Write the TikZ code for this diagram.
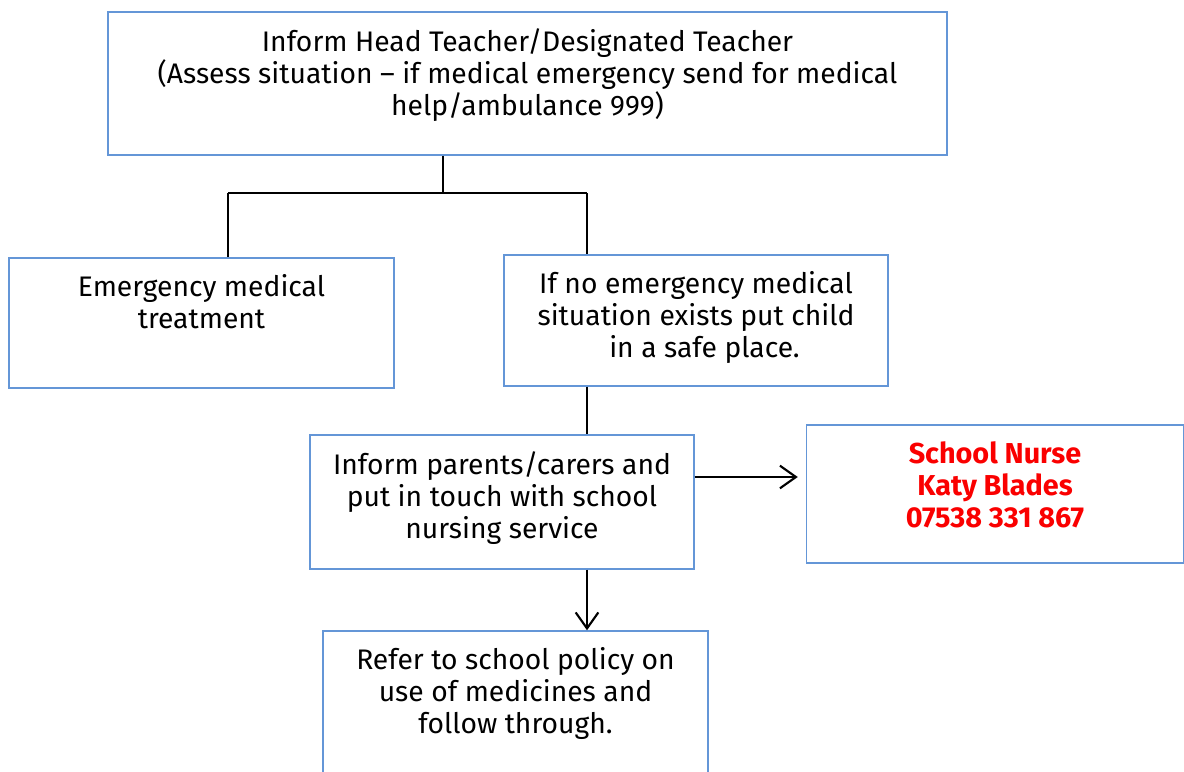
\documentclass[tikz,border=0pt]{standalone}
\usepackage{fontspec}
\setmainfont{Fira Sans}
\usetikzlibrary{positioning,arrows.meta}
\definecolor{boxblue}{RGB}{100,150,215}
\definecolor{nursered}{RGB}{250,0,0}
\tikzset{box/.style={draw=boxblue, line width=1.1pt, rectangle, inner sep=0pt},
%text sits near the top of each box
boxtext/.style={align=center, inner sep=0pt, font=\fontsize{21.2}{24}\selectfont},
link/.style={draw=black, line width=1.6pt},
flow/.style={link, -{Straight Barb[length=12pt,width=17pt,line width=1.6pt]}}}

\begin{document}
\begin{tikzpicture}[x=0.75pt,y=-0.75pt]

\useasboundingbox (0,0) rectangle (1184,771);

\node[box, minimum width=839*0.75pt, minimum height=143*0.75pt] (top) at (527.5,83.5) {};
\node[box, minimum width=385*0.75pt, minimum height=130*0.75pt] (left) at (201.5,323) {};
\node[box, minimum width=384*0.75pt, minimum height=131*0.75pt] (right) at (696,320.5) {};
\node[box, minimum width=384*0.75pt, minimum height=134*0.75pt] (mid) at (502,502) {};
\node[box, minimum width=377*0.75pt, minimum height=138*0.75pt] (nurse) at (995,494) {};
\node[box, minimum width=385*0.75pt, minimum height=160*0.75pt] (bottom) at (515.5,711) {};

\node[boxtext, below=12.5pt of top.north] (toptext) {Inform Head Teacher/Designated Teacher\\(Assess situation -- if medical emergency send for medical\\help/ambulance 999)};
\node[boxtext, below=12.5pt of left.north] (lefttext) {Emergency medical\\treatment};
\node[boxtext, below=12.5pt of right.north] (righttext) {If no emergency medical\\situation exists put child\\\hspace{0.6em}in a safe place.};
\node[boxtext, below=12.5pt of mid.north] (midtext) {Inform parents/carers and\\put in touch with school\\nursing service};
\node[boxtext, below=12.5pt of nurse.north, text=nursered, font=\fontsize{21.6}{24}\selectfont\bfseries] (nursetext) {School Nurse\\Katy Blades\\07538 331 867};
\node[boxtext, below=12.5pt of bottom.north] (bottomtext) {Refer to school policy on\\use of medicines and\\follow through.};

\coordinate (split) at (443,193);
\coordinate (splitleft) at (228,193);
\coordinate (splitright) at (587,193);

\draw[link, line width=1.1pt] (top.south -| split) -- (split);
\draw[link] (splitleft) -- (splitright);
\draw[link] (splitleft) -- (splitleft |- left.north);
\draw[link] (splitright) -- (splitright |- right.north);
\draw[link] (right.south -| splitright) -- (mid.north -| splitright);
\draw[flow] (mid.south -| splitright) -- (bottom.north -| splitright);
\draw[flow] ([yshift=18.75pt]mid.east) -- ([yshift=12.75pt,xshift=-6pt]nurse.west);

\end{tikzpicture}
\end{document}
